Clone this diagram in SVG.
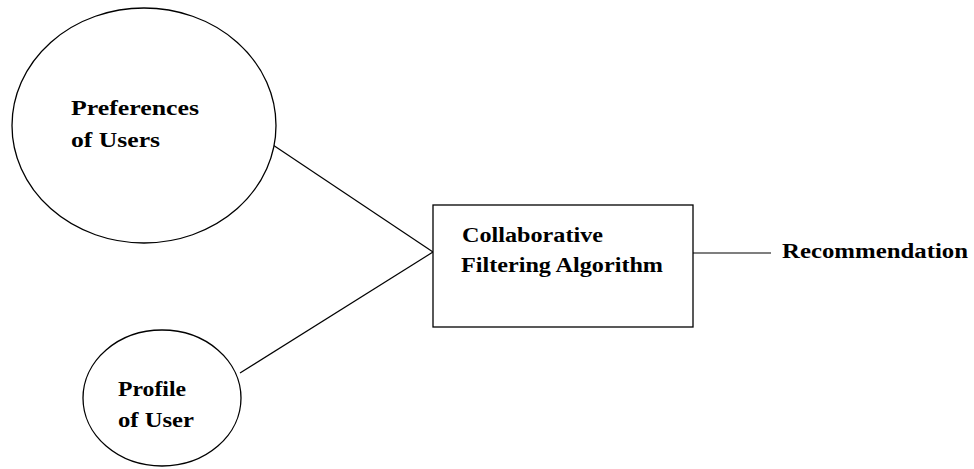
<svg xmlns="http://www.w3.org/2000/svg" width="974" height="469" viewBox="0 0 974 469">
<style>
.shape{fill:#fff;stroke:#000;stroke-width:1.3}
.conn{stroke:#000;stroke-width:1.2;fill:none}
.lbl{font-family:'Liberation Serif','DejaVu Serif',serif;font-weight:bold;font-size:20px;fill:#000}
</style>
<rect width="974" height="469" fill="#fff"/>
<g id="connectors">
<line class="conn" x1="273" y1="145" x2="433" y2="252"/>
<line class="conn" x1="240" y1="373" x2="433" y2="252"/>
<line class="conn" x1="693" y1="253" x2="771" y2="253"/>
</g>
<g id="preferences">
<ellipse class="shape" cx="144" cy="125.5" rx="132" ry="117.5"/>
<text class="lbl" x="71" y="115" textLength="128" lengthAdjust="spacingAndGlyphs">Preferences</text>
<text class="lbl" x="71" y="147" textLength="89" lengthAdjust="spacingAndGlyphs">of Users</text>
</g>
<g id="profile">
<ellipse class="shape" cx="162" cy="398" rx="79" ry="68"/>
<text class="lbl" x="118" y="396" textLength="68" lengthAdjust="spacingAndGlyphs">Profile</text>
<text class="lbl" x="118" y="427" textLength="76" lengthAdjust="spacingAndGlyphs">of User</text>
</g>
<g id="algorithm">
<rect class="shape" x="433" y="205" width="260" height="122"/>
<text class="lbl" x="462" y="242" textLength="141" lengthAdjust="spacingAndGlyphs">Collaborative</text>
<text class="lbl" x="461" y="272" textLength="202" lengthAdjust="spacingAndGlyphs">Filtering Algorithm</text>
</g>
<g id="recommendation">
<text class="lbl" x="782" y="258" textLength="186" lengthAdjust="spacingAndGlyphs">Recommendation</text>
</g>
</svg>
